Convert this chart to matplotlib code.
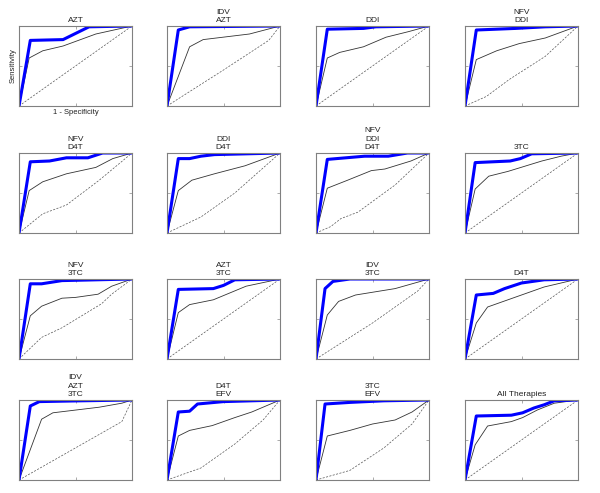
import matplotlib
matplotlib.use("Agg")
import matplotlib.pyplot as plt

plt.rcParams["font.family"] = ["Liberation Sans", "DejaVu Sans"]

# panel titles, row by row
titles = ["AZT", "IDV\nAZT", "DDI", "NFV\nDDI",
          "NFV\nD4T", "DDI\nD4T", "NFV\nDDI\nD4T", "3TC",
          "NFV\n3TC", "AZT\n3TC", "IDV\n3TC", "D4T",
          "IDV\nAZT\n3TC", "D4T\nEFV", "3TC\nEFV", "All Therapies"]

# thick blue ROC curves (x = 1 - specificity, y = sensitivity)
blue_x = [[0, 0.10, 0.39, 0.62, 1],
          [0, 0.10, 0.20, 1],
          [0, 0.10, 0.42, 0.53, 1],
          [0, 0.10, 0.45, 0.71, 1],
          [0, 0.10, 0.27, 0.42, 0.61, 0.74, 1],
          [0, 0.10, 0.20, 0.30, 0.42, 1],
          [0, 0.10, 0.43, 0.64, 0.81, 1],
          [0, 0.09, 0.40, 0.49, 0.59, 1],
          [0, 0.10, 0.20, 0.38, 1],
          [0, 0.10, 0.41, 0.50, 0.60, 1],
          [0, 0.08, 0.15, 0.30, 1],
          [0, 0.10, 0.25, 0.35, 0.50, 0.70, 1],
          [0, 0.10, 0.18, 0.55, 1],
          [0, 0.10, 0.20, 0.27, 0.50, 1],
          [0, 0.08, 0.30, 0.60, 1],
          [0, 0.10, 0.41, 0.51, 0.61, 0.70, 0.79, 1]]
blue_y = [[0, 0.82, 0.83, 0.99, 1],
          [0, 0.95, 0.99, 1],
          [0, 0.96, 0.97, 0.99, 1],
          [0, 0.95, 0.97, 0.99, 1],
          [0, 0.89, 0.90, 0.94, 0.94, 1.0, 1],
          [0, 0.93, 0.93, 0.96, 0.98, 1],
          [0, 0.92, 0.96, 0.96, 1.0, 1],
          [0, 0.88, 0.90, 0.93, 0.99, 1],
          [0, 0.94, 0.94, 0.98, 1],
          [0, 0.87, 0.88, 0.92, 0.99, 1],
          [0, 0.88, 0.97, 1.0, 1],
          [0, 0.80, 0.82, 0.88, 0.95, 0.99, 1],
          [0, 0.925, 0.98, 0.99, 1],
          [0, 0.85, 0.86, 0.95, 0.98, 1],
          [0, 0.95, 0.97, 0.99, 1],
          [0, 0.80, 0.81, 0.84, 0.90, 0.94, 0.99, 1]]

# thin black curves
black_x = [[0, 0.09, 0.21, 0.39, 0.68, 1],
           [0, 0.20, 0.32, 0.73, 1],
           [0, 0.10, 0.21, 0.42, 0.62, 0.82, 1],
           [0, 0.10, 0.28, 0.48, 0.71, 1],
           [0, 0.09, 0.21, 0.42, 0.68, 0.83, 1],
           [0, 0.10, 0.22, 0.42, 0.69, 1],
           [0, 0.10, 0.28, 0.49, 0.61, 0.84, 1],
           [0, 0.09, 0.21, 0.38, 0.68, 0.85, 1],
           [0, 0.10, 0.20, 0.38, 0.50, 0.70, 0.82, 1],
           [0, 0.10, 0.20, 0.41, 0.70, 1],
           [0, 0.10, 0.20, 0.35, 0.70, 1],
           [0, 0.10, 0.20, 0.40, 0.70, 1],
           [0, 0.20, 0.30, 0.71, 0.91, 1],
           [0, 0.10, 0.20, 0.40, 0.60, 0.75, 1],
           [0, 0.10, 0.30, 0.50, 0.70, 0.85, 1],
           [0, 0.09, 0.20, 0.41, 0.51, 0.64, 0.79, 1]]
black_y = [[0, 0.60, 0.69, 0.75, 0.90, 1],
           [0, 0.74, 0.83, 0.90, 1],
           [0, 0.60, 0.67, 0.74, 0.86, 0.93, 1],
           [0, 0.58, 0.69, 0.78, 0.85, 1],
           [0, 0.53, 0.64, 0.74, 0.82, 0.93, 1],
           [0, 0.53, 0.66, 0.74, 0.84, 1],
           [0, 0.56, 0.66, 0.78, 0.80, 0.90, 1],
           [0, 0.55, 0.71, 0.77, 0.90, 0.96, 1],
           [0, 0.54, 0.66, 0.76, 0.77, 0.81, 0.91, 1],
           [0, 0.58, 0.68, 0.74, 0.91, 1],
           [0, 0.55, 0.72, 0.80, 0.88, 1],
           [0, 0.45, 0.65, 0.75, 0.90, 1],
           [0, 0.76, 0.84, 0.91, 0.96, 1],
           [0, 0.55, 0.62, 0.68, 0.78, 0.85, 1],
           [0, 0.55, 0.62, 0.70, 0.75, 0.85, 1],
           [0, 0.44, 0.675, 0.73, 0.78, 0.875, 0.96, 1]]

# dashed reference curves
dash_x = [[0, 1],
          [0, 0.5, 0.9, 1],
          [0, 1],
          [0, 0.19, 0.39, 0.71, 1],
          [0, 0.21, 0.42, 0.71, 1],
          [0, 0.3, 0.6, 1],
          [0, 0.13, 0.22, 0.37, 0.70, 1],
          [0, 1],
          [0, 0.20, 0.38, 0.73, 0.82, 1],
          [0, 1],
          [0, 0.5, 0.9, 1],
          [0, 1],
          [0, 0.91, 1],
          [0, 0.3, 0.6, 0.85, 1],
          [0, 0.3, 0.6, 0.85, 1],
          [0, 1]]
dash_y = [[0, 1],
          [0, 0.45, 0.82, 1],
          [0, 1],
          [0, 0.12, 0.33, 0.62, 1],
          [0, 0.24, 0.35, 0.66, 1],
          [0, 0.2, 0.5, 1],
          [0, 0.08, 0.18, 0.26, 0.60, 1],
          [0, 1],
          [0, 0.27, 0.39, 0.69, 0.81, 1],
          [0, 1],
          [0, 0.45, 0.85, 1],
          [0, 1],
          [0, 0.73, 1],
          [0, 0.15, 0.45, 0.75, 1],
          [0, 0.12, 0.40, 0.70, 1],
          [0, 1]]

W, H = 600, 493
col_left = [19, 167, 316, 465]
row_top = [26, 153, 279, 400]
ax_w, ax_h = 113, 80

fig = plt.figure(figsize=(W / 100, H / 100), dpi=100)
fig.patch.set_facecolor("white")

for i in range(16):
    r, c = divmod(i, 4)
    ax = fig.add_axes([col_left[c] / W, (H - row_top[r] - ax_h) / H,
                       ax_w / W, ax_h / H])
    ax.plot(dash_x[i], dash_y[i], color="#555555", lw=0.5, dashes=(3, 2))
    ax.plot(black_x[i], black_y[i], color="#333333", lw=0.6)
    ax.plot(blue_x[i], blue_y[i], color="#0000ff", lw=2.2)
    ax.set_xlim(0, 1)
    ax.set_ylim(0, 1)
    ax.set_xticks([0, 0.5, 1])
    ax.set_yticks([0, 0.5, 1])
    ax.tick_params(direction="in", length=2, width=0.5, colors="#888888",
                   top=True, right=True, labelbottom=False, labelleft=False)
    for s in ax.spines.values():
        s.set_color("#808080")
        s.set_linewidth(0.8)
    ax.set_title(titles[i], fontsize=6, color="#222222", pad=3,
                 linespacing=1.25)
    if i == 0:
        ax.set_ylabel("Sensitivity", fontsize=5.5, color="#222222", labelpad=2)
        ax.set_xlabel("1 - Specificity", fontsize=5.5, color="#222222",
                      labelpad=2)

fig.savefig("out.png", dpi=100)
